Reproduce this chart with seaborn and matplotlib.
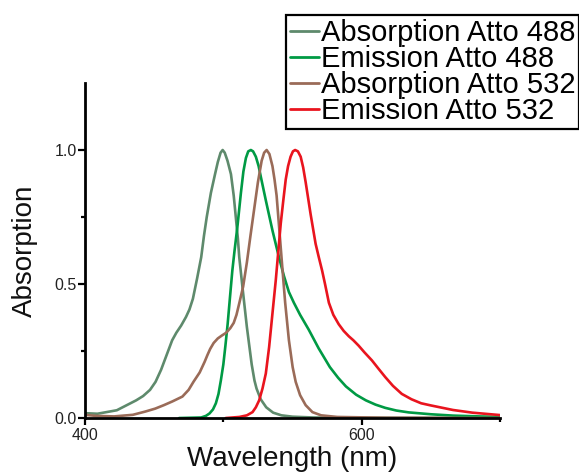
import numpy as np
import pandas as pd
import seaborn as sns
import matplotlib
matplotlib.use("Agg")
import matplotlib.pyplot as plt
from matplotlib.ticker import FixedLocator, NullFormatter
from matplotlib.lines import Line2D

# Normalised spectra of the two dyes (wavelength in nm, normalised intensity)
abs488_wl = [400, 409, 423, 437, 442, 447, 451, 455, 459, 463, 466, 469.5, 473, 475.5,
             478, 481, 484, 486, 488, 491, 494, 496, 498, 499.5, 501, 503, 505.5, 507.5,
             509, 510.5, 511.5, 514, 517, 520.5, 522.5, 524, 527, 531, 536, 542, 550,
             565, 590, 700]
abs488_y = [0.018, 0.016, 0.029, 0.066, 0.082, 0.105, 0.135, 0.18, 0.235, 0.29, 0.318,
            0.345, 0.377, 0.405, 0.445, 0.52, 0.60, 0.68, 0.75, 0.84, 0.91, 0.955, 0.99,
            1.0, 0.99, 0.96, 0.91, 0.83, 0.75, 0.67, 0.60, 0.48, 0.34, 0.20, 0.14, 0.11,
            0.07, 0.04, 0.02, 0.01, 0.005, 0.002, 0.001, 0.0]

em488_wl = [468, 484, 487.4, 490, 492.5, 494.6, 496.5, 498.2, 500, 501.5, 503.1, 505.3,
            506.5, 508, 510.3, 512.7, 514.5, 516.3, 518, 519.9, 521.5, 523.5, 525.5,
            527.1, 530.8, 535.5, 540.2, 543.8, 547.4, 551, 555.5, 561.7, 568.9, 577, 583,
            588.6, 596, 603, 610, 617, 625, 634, 650, 666, 685, 700]
em488_y = [0.0, 0.002, 0.008, 0.017, 0.032, 0.055, 0.09, 0.14, 0.20, 0.27, 0.35, 0.48,
           0.55, 0.62, 0.72, 0.84, 0.92, 0.97, 0.995, 1.0, 0.995, 0.975, 0.94, 0.90,
           0.81, 0.70, 0.60, 0.53, 0.47, 0.43, 0.385, 0.33, 0.26, 0.19, 0.15, 0.118,
           0.087, 0.066, 0.05, 0.038, 0.028, 0.021, 0.014, 0.009, 0.006, 0.004]

abs532_wl = [400, 407.7, 421, 434.6, 443.5, 450.7, 457, 463.2, 470.4, 474.9, 478.4, 482.9,
             486.5, 488.5, 490.5, 493, 496, 499, 502, 505, 507.5, 509.5, 511.6, 514.3,
             517, 519.6, 522.3, 525, 527.7, 529.5, 531.3, 533.3, 535.5, 537, 538.5,
             540.2, 542.5, 544.7, 547.4, 550.1, 552.3, 555.5, 559.5, 564.4, 570.7, 582.3,
             618, 700]
abs532_y = [0.012, 0.008, 0.006, 0.012, 0.024, 0.035, 0.048, 0.062, 0.08, 0.105, 0.135,
            0.17, 0.21, 0.235, 0.258, 0.28, 0.297, 0.308, 0.318, 0.335, 0.355, 0.385,
            0.43, 0.49, 0.58, 0.68, 0.78, 0.88, 0.96, 0.99, 1.0, 0.985, 0.94, 0.89, 0.83,
            0.72, 0.57, 0.43, 0.29, 0.19, 0.135, 0.085, 0.048, 0.022, 0.01, 0.004, 0.001,
            0.0]

em532_wl = [501.7, 511.6, 517, 521.1, 523.5, 525.9, 528.3, 530.7, 533.1, 535.5, 537.9,
            539.7, 541.5, 543.3, 545.1, 546.8, 548.6, 550.3, 551.9, 553.9, 555.9, 557.7,
            559.5, 561.3, 563.1, 566.7, 569, 571.4, 573.5, 576.3, 579.5, 583.4, 587,
            590.7, 594, 597.8, 602, 607.4, 612, 617, 622.6, 629, 636, 643, 650, 666, 680,
            700]
em532_y = [0.0, 0.004, 0.01, 0.022, 0.04, 0.066, 0.11, 0.166, 0.265, 0.39, 0.514, 0.62,
           0.726, 0.81, 0.89, 0.94, 0.975, 0.995, 1.0, 0.995, 0.975, 0.935, 0.88, 0.82,
           0.76, 0.65, 0.60, 0.55, 0.50, 0.43, 0.385, 0.35, 0.325, 0.305, 0.29, 0.27,
           0.245, 0.215, 0.185, 0.153, 0.12, 0.09, 0.07, 0.055, 0.047, 0.03, 0.02, 0.011]

series_names = ["Absorption Atto 488", "Emission Atto 488",
                "Absorption Atto 532", "Emission Atto 532"]
series_colors = ["#5e8a6c", "#009a44", "#9a6b58", "#e9141e"]

x_ticks = [400, 500, 600, 700]
x_labels = ["400", "", "600", ""]
y_ticks = [0.0, 0.25, 0.5, 0.75, 1.0]
y_labels = ["0.0", "", "0.5", "", "1.0"]

frames = []
for name, wl, y in zip(series_names,
                       [abs488_wl, em488_wl, abs532_wl, em532_wl],
                       [abs488_y, em488_y, abs532_y, em532_y]):
    frames.append(pd.DataFrame({"Wavelength": wl, "Intensity": y, "Series": name}))
data = pd.concat(frames, ignore_index=True)

sns.set_style("ticks")
plt.rcParams["font.family"] = ["Liberation Sans", "DejaVu Sans"]

fig = plt.figure(figsize=(5.79, 4.76), dpi=100)
ax = fig.add_axes([0.1468, 0.1218, 0.7168, 0.7038])

sns.lineplot(data=data, x="Wavelength", y="Intensity", hue="Series",
             hue_order=series_names, palette=dict(zip(series_names, series_colors)),
             linewidth=1.9, ax=ax, legend=False, sort=False)
for line in ax.get_lines():
    line.set_solid_joinstyle("round")

ax.set_xlim(400, 700)
ax.set_ylim(0, 1.25)

major_x = [t for t, l in zip(x_ticks, x_labels) if l]
minor_x = [t for t, l in zip(x_ticks, x_labels) if not l]
major_y = [t for t, l in zip(y_ticks, y_labels) if l]
minor_y = [t for t, l in zip(y_ticks, y_labels) if not l]
ax.set_xticks(major_x)
ax.set_xticklabels([l for l in x_labels if l])
ax.xaxis.set_minor_locator(FixedLocator(minor_x))
ax.xaxis.set_minor_formatter(NullFormatter())
ax.set_yticks(major_y)
ax.set_yticklabels([l for l in y_labels if l])
ax.yaxis.set_minor_locator(FixedLocator(minor_y))
ax.yaxis.set_minor_formatter(NullFormatter())

ax.tick_params(axis="both", which="major", direction="out", length=5, width=1.6,
               labelsize=11.5, color="black", labelcolor="#222222")
ax.tick_params(axis="x", which="major", pad=2)
ax.tick_params(axis="y", which="major", pad=1)
ax.tick_params(axis="both", which="minor", direction="out", length=3, width=1.6,
               color="black")

for side in ["top", "right"]:
    ax.spines[side].set_visible(False)
for side in ["left", "bottom"]:
    ax.spines[side].set_linewidth(2.0)
    ax.spines[side].set_color("black")

ax.set_xlabel("Wavelength (nm)", fontsize=20, labelpad=2, color="#111111")
ax.set_ylabel("Absorption", fontsize=20, labelpad=12, color="#111111")

handles = [Line2D([0], [0], color=c, lw=2.0) for c in series_colors]
leg = fig.legend(handles, series_names, loc="upper left",
                 bbox_to_anchor=(0.494, 0.968), bbox_transform=fig.transFigure,
                 fontsize=21, frameon=True, fancybox=False, shadow=False,
                 handlelength=1.0, handletextpad=0.08, labelspacing=-0.06,
                 borderpad=0.12, borderaxespad=0.0, labelcolor="black")
leg.get_frame().set_edgecolor("black")
leg.get_frame().set_linewidth(1.6)
leg.get_frame().set_alpha(1.0)

fig.savefig("out.png", dpi=100)
